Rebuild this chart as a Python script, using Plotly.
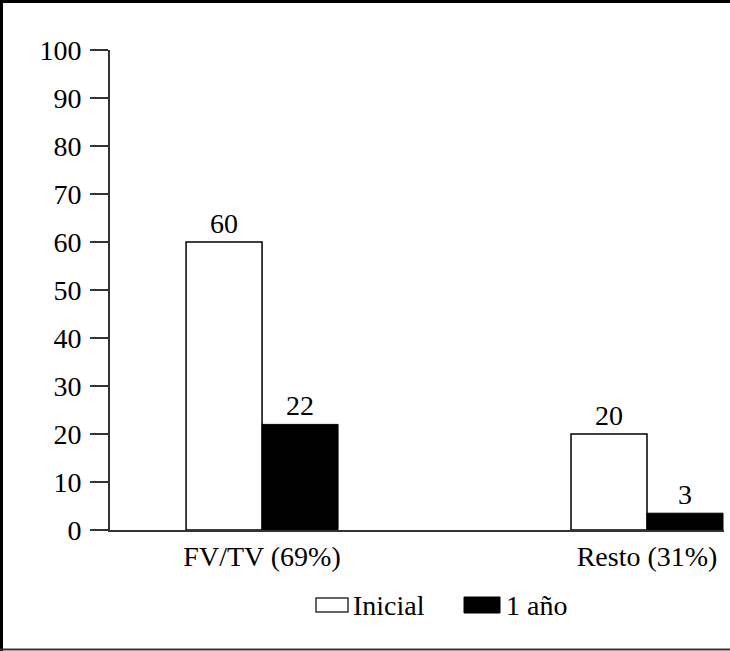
import plotly.graph_objects as go

categories = ["FV/TV (69%)", "Resto (31%)"]
series_names = ["Inicial", "1 año"]
inicial_values = [60, 20]
anio_values = [22, 3.5]
inicial_labels = ["60", "20"]
anio_labels = ["22", "3"]
y_ticks = [0, 10, 20, 30, 40, 50, 60, 70, 80, 90, 100]

FONT = "Liberation Serif"
FS = 28
W, H = 730, 651
ML, MR, MT, MB = 110, 6, 50, 121
pw = W - ML - MR
ph = H - MT - MB

x_pos = list(range(len(categories)))
bw = 0.1974

fig = go.Figure()
fig.add_trace(go.Bar(
    x=x_pos, y=inicial_values, name=series_names[0], width=bw, offset=-bw,
    marker=dict(color="white", line=dict(color="black", width=1.5)),
    text=inicial_labels, textposition="outside", cliponaxis=False,
    textfont=dict(family=FONT, size=FS, color="black"), showlegend=False,
))
fig.add_trace(go.Bar(
    x=x_pos, y=anio_values, name=series_names[1], width=bw, offset=0,
    marker=dict(color="black", line=dict(color="black", width=1)),
    text=anio_labels, textposition="outside", cliponaxis=False,
    textfont=dict(family=FONT, size=FS, color="black"), showlegend=False,
))

def px2x(px):
    return (px - ML) / pw

def py2y(py):
    return (H - MB - py) / ph

shapes = [
    # frame
    dict(type="line", xref="paper", yref="paper", x0=px2x(1.5), x1=px2x(1.5), y0=py2y(0), y1=py2y(H), line=dict(color="black", width=3)),
    dict(type="line", xref="paper", yref="paper", x0=px2x(0), x1=px2x(W), y0=py2y(1.5), y1=py2y(1.5), line=dict(color="black", width=3)),
    dict(type="line", xref="paper", yref="paper", x0=px2x(0), x1=px2x(W), y0=py2y(649.5), y1=py2y(649.5), line=dict(color="#333", width=2)),
    # legend keys
    dict(type="rect", xref="paper", yref="paper", x0=px2x(316), x1=px2x(348), y0=py2y(598), y1=py2y(612), fillcolor="white", line=dict(color="#333", width=1.5)),
    dict(type="rect", xref="paper", yref="paper", x0=px2x(464), x1=px2x(500), y0=py2y(597), y1=py2y(613), fillcolor="black", line=dict(color="black", width=1)),
]
annotations = [
    dict(xref="paper", yref="paper", x=px2x(351), y=py2y(605), text=series_names[0], showarrow=False, xanchor="left", yanchor="middle", font=dict(family=FONT, size=FS, color="black")),
    dict(xref="paper", yref="paper", x=px2x(504), y=py2y(605), text=series_names[1], showarrow=False, xanchor="left", yanchor="middle", font=dict(family=FONT, size=FS, color="black")),
]

fig.update_layout(
    width=W, height=H, margin=dict(l=ML, r=MR, t=MT, b=MB),
    paper_bgcolor="white", plot_bgcolor="white",
    showlegend=False, barmode="overlay",
    shapes=shapes, annotations=annotations,
    font=dict(family=FONT, size=FS, color="black"),
    xaxis=dict(range=[-0.395, 1.2], tickvals=x_pos, ticktext=categories, showline=True, linecolor="#333", linewidth=2,
               ticks="", showgrid=False, zeroline=False, tickfont=dict(family=FONT, size=FS, color="black")),
    yaxis=dict(range=[0, 100], tickvals=y_ticks, showline=True, linecolor="#333", linewidth=2, ticks="outside",
               ticklen=18, tickwidth=2, tickcolor="#333", showgrid=False, zeroline=False, ticklabelstandoff=3,
               tickfont=dict(family=FONT, size=FS, color="black")),
)

fig.write_html("out.html", config={"displayModeBar": False},
               post_script="document.body.style.margin='0';document.body.style.padding='0';")
